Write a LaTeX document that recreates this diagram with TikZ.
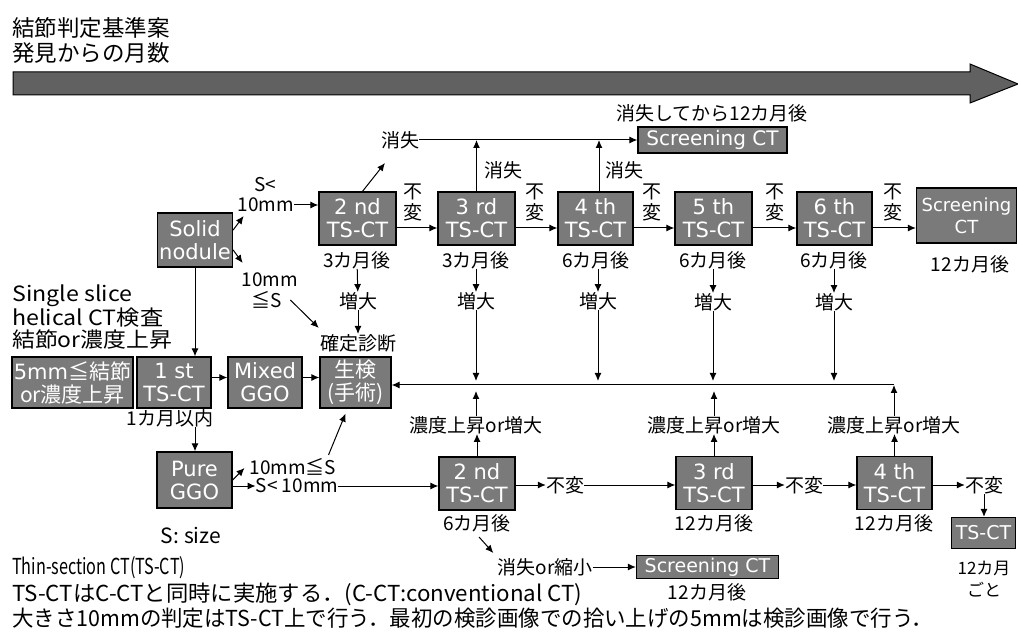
\documentclass[tikz,border=0pt]{standalone}
\usepackage{fontspec}
\usepackage{graphicx}
\setmainfont{Noto Sans CJK JP}
\newfontfamily\boxfont{DejaVu Sans}
\usetikzlibrary{arrows.meta}
\newsavebox{\fitbox}
\newlength{\fitlen}
\newcommand{\fitw}[2]{\sbox{\fitbox}{#2}\setlength{\fitlen}{\wd\fitbox}\pgfmathsetmacro{\fitfac}{#1/\fitlen}\scalebox{\fitfac}[1]{\usebox{\fitbox}}}
\tikzset{
  bx/.style={draw=black, line width=1.3pt, fill=black!52, text=white, inner sep=0pt, align=center, font=\boxfont\fontsize{21}{23}\selectfont},
  jbx/.style={bx, font=\fontsize{21}{23}\selectfont},
  lb/.style={inner sep=0pt, align=center, font=\fontsize{19}{22}\selectfont},
  ttl/.style={inner sep=0pt, anchor=west, font=\fontsize{22.5}{26}\selectfont},
  btx/.style={inner sep=0pt, anchor=west, font=\fontsize{22}{24}\selectfont},
  ar/.style={-{Latex[length=8pt,width=7pt]}, line width=1pt},
}
\begin{document}
\begin{tikzpicture}[x=1pt,y=-1pt]
\useasboundingbox (0,0) rectangle (1018,644);
\clip (0,0) rectangle (1018,644);
\fill[white] (0,0) rectangle (1018,644);

% title
\node[ttl] (t1) at (12,28) {結節判定基準案};
\node[ttl] (t2) at (12,53) {発見からの月数};
% banner arrow
\draw[line width=1pt, fill=black!62] (13,72) -- (970,72) -- (970,64) -- (1018,84) -- (970,103) -- (970,95) -- (13,95) -- cycle;

% top screening
\node[lb] (sc1l) at (712,113) {消失してから12カ月後};
\node[bx, minimum width=149pt, minimum height=26pt, font=\boxfont\fontsize{20}{22}\selectfont] (sc1) at (712.5,140) {Screening CT};
\node[lb] (s1) at (400,140) {消失};

% row 1 boxes
\node[bx, minimum width=75pt, minimum height=54pt] (sn) at (195,240) {Solid\\nodule};
\node[bx, minimum width=77pt, minimum height=53pt] (b2) at (357.5,218.5) {2 nd\\TS-CT};
\node[bx, minimum width=77pt, minimum height=53pt] (b3) at (476.5,218.5) {3 rd\\TS-CT};
\node[bx, minimum width=75pt, minimum height=53pt] (b4) at (595.5,218.5) {4 th\\TS-CT};
\node[bx, minimum width=77pt, minimum height=53pt] (b5) at (713.5,218.5) {5 th\\TS-CT};
\node[bx, minimum width=75pt, minimum height=53pt] (b6) at (834.5,218.5) {6 th\\TS-CT};
\node[bx, minimum width=100pt, minimum height=55pt, font=\boxfont\fontsize{18}{22}\selectfont] (b7) at (966.5,215.5) {Screening\\CT};

% vertical 不変 labels
\node[lb, font=\fontsize{19}{21}\selectfont] (v1) at (413,202) {不\\変};
\node[lb, font=\fontsize{19}{21}\selectfont] (v2) at (535,202) {不\\変};
\node[lb, font=\fontsize{19}{21}\selectfont] (v3) at (652,202) {不\\変};
\node[lb, font=\fontsize{19}{21}\selectfont] (v4) at (775,202) {不\\変};
\node[lb, font=\fontsize{19}{21}\selectfont] (v5) at (893,202) {不\\変};

% 消失 labels
\node[lb] (e1) at (503,170) {消失};
\node[lb] (e2) at (624,170) {消失};

% months labels
\node[lb] (m2) at (357,260) {3カ月後};
\node[lb] (m3) at (476,260) {3カ月後};
\node[lb] (m4) at (596,260) {6カ月後};
\node[lb] (m5) at (713,260) {6カ月後};
\node[lb] (m6) at (834,260) {6カ月後};
\node[lb] (m7) at (970,264) {12カ月後};

% 増大
\node[lb] (z2) at (358,301) {増大};
\node[lb] (z3) at (476,301) {増大};
\node[lb] (z4) at (598,301) {増大};
\node[lb] (z5) at (713,302) {増大};
\node[lb] (z6) at (834,302) {増大};
\node[lb] (kd) at (358,343) {確定診断};

% size labels near solid nodule
\node[lb] (q1a) at (265,185) {S<};
\node[lb] (q1b) at (266,205) {10mm};
\node[lb] (r1) at (270,280) {10mm};
\node[lb] (r2) at (267,300) {≦S};

% left text block
\node[inner sep=0pt, anchor=west, align=left, font=\fontsize{21}{22.5}\selectfont] (lt) at (12,317) {\fitw{120}{Single slice}\\\fitw{151}{helical CT検査}\\\fitw{160}{結節or濃度上昇}};

% row 2
\node[jbx, minimum width=121pt, minimum height=51pt] (bf) at (72.5,382.5) {{\boxfont 5mm}≦結節\\or濃度上昇};
\node[bx, minimum width=74pt, minimum height=51pt] (bt1) at (174,382.5) {1 st\\TS-CT};
\node[bx, minimum width=74pt, minimum height=51pt] (bm) at (265,382.5) {Mixed\\GGO};
\node[jbx, minimum width=71pt, minimum height=51pt] (ks) at (355.5,382.5) {生検\\(手術)};
\node[lb] (om) at (170,418) {1カ月以内};

% pure GGO
\node[bx, minimum width=75pt, minimum height=56pt] (pg) at (194.5,480) {Pure\\GGO};
\node[lb] (g1) at (293,467) {10mm≦S};
\node[lb] (g2) at (297,486) {S< 10mm};
\node[lb, font=\fontsize{21}{24}\selectfont] (ss) at (191,535) {S: size};

% bottom row
\node[bx, minimum width=76pt, minimum height=53pt] (c2) at (477,483.5) {2 nd\\TS-CT};
\node[bx, minimum width=76pt, minimum height=53pt] (c3) at (714,483) {3 rd\\TS-CT};
\node[bx, minimum width=75pt, minimum height=53pt] (c4) at (894.5,483) {4 th\\TS-CT};
\node[bx, minimum width=64pt, minimum height=31pt, font=\boxfont\fontsize{19}{21}\selectfont] (c5) at (983.5,533) {TS-CT};
\node[lb] (l2) at (477,523) {6カ月後};
\node[lb] (l3) at (714,523) {12カ月後};
\node[lb] (l4) at (894,523) {12カ月後};
\node[lb, font=\fontsize{17}{22}\selectfont] (l5) at (984,579) {12カ月\\ごと};
\node[lb] (u1) at (565,485) {不変};
\node[lb] (u2) at (804,485) {不変};
\node[lb] (u3) at (984,485) {不変};
\node[lb] (n1) at (476,425) {濃度上昇or増大};
\node[lb] (n2) at (714,425) {濃度上昇or増大};
\node[lb] (n3) at (894,425) {濃度上昇or増大};
\node[lb] (vs) at (545,567) {消失or縮小};
\node[bx, minimum width=142pt, minimum height=23pt, font=\boxfont\fontsize{19}{21}\selectfont] (sc2) at (707.5,567) {Screening CT};
\node[lb] (sc2l) at (707,592) {12カ月後};

% bottom text
\node[btx] (x1) at (12,568) {\fitw{173}{Thin-section CT(TS-CT)}};
\node[btx] (x2) at (12,594) {\fitw{570}{TS-CTはC-CTと同時に実施する．(C-CT:conventional CT)}};
\node[btx] (x3) at (12,618) {\fitw{921}{大きさ10mmの判定はTS-CT上で行う．最初の検診画像での拾い上げの5mmは検診画像で行う．}};

% coordinates for the main collecting line
\coordinate (Ltop) at (0,381);
\coordinate (Lbot) at (0,391);
\coordinate (Lc) at (894,385);
\coordinate (ya) at (0,228);

% ---- connectors ----
\draw[ar] (s1.east) -- (sc1.west);
\draw[ar] ([xshift=5pt]b2.north) -- ([xshift=-15pt,yshift=-23pt]s1.center);
\draw[ar] (b3.north) -- (b3.north |- s1);
\draw[ar] ([xshift=3.5pt]b4.north) -- ([xshift=3.5pt]b4.north |- s1);
\draw[ar] (b2.east |- ya) -- (b3.west |- ya);
\draw[ar] (b3.east |- ya) -- (b4.west |- ya);
\draw[ar] (b4.east |- ya) -- (b5.west |- ya);
\draw[ar] (b5.east |- ya) -- (b6.west |- ya);
\draw[ar] (b6.east |- ya) -- (b7.west |- ya);
\draw[ar] ([yshift=10pt]sn.east) -- ([xshift=6pt,yshift=-11pt]q1b.west);
\draw[ar] (q1b.east) -- (b2.west |- q1b);
\draw[ar] ([yshift=-10pt]sn.east) -- ([xshift=1pt,yshift=17pt]r1.west);
\draw[ar] ([xshift=8pt]r2.east) -- ([xshift=-1pt,yshift=6pt]kd.north west);
\draw[ar] (sn.south) -- (sn.south |- bt1.north);
\draw[ar] (m2) -- (z2);
\draw[ar] (z2) -- (kd);
\draw[ar] (m3) -- (z3);
\draw[ar] (m4.south -| z4) -- (z4);
\draw[ar] (m5) -- (z5);
\draw[ar] (m6) -- (z6);
\draw[ar] (z3) -- (z3 |- Ltop);
\draw[ar] (z4) -- (z4 |- Ltop);
\draw[ar] (z5) -- (z5 |- Ltop);
\draw[ar] (z6) -- (z6 |- Ltop);
\draw[ar] (Lc) -- (ks.east |- Lc);
\draw[ar] (n1) -- (n1 |- Lbot);
\draw[ar] (n2) -- (n2 |- Lbot);
\draw[ar] (n3) -- (Lc);
\draw[ar] ([yshift=5pt]bt1.east) -- ([yshift=5pt]bm.west);
\draw[ar] ([yshift=5pt]bm.east) -- ([yshift=5pt]ks.west);
\draw[ar] (sn.south |- om.south) -- (sn.south |- pg.north);
\draw[ar] (pg.east) -- ([xshift=-5pt,yshift=-1pt]g1.west);
\draw[ar] ([xshift=-8pt,yshift=12pt]g1.east) -- ([xshift=-10pt,yshift=-5pt]ks.south);
\draw[ar] (pg.east |- g2) -- (g2.west);
\draw[ar] (g2.east) -- (c2.west |- g2);
\draw[ar] (c2.north) -- (c2.north |- n1.south);
\draw[ar] (c3.north) -- (c3.north |- n2.south);
\draw[ar] (c4.north) -- (c4.north |- n3.south);
\draw[ar] (c2.east |- u1) -- (u1.west);
\draw[ar] (u1.east) -- (c3.west |- u1);
\draw[ar] (c3.east |- u2) -- (u2.west);
\draw[ar] (u2.east) -- (c4.west |- u2);
\draw[ar] (c4.east |- u3) -- (u3.west);
\draw[ar] (u3) -- (u3 |- c5.north);
\draw[ar] ([xshift=2pt,yshift=-5pt]l2.south) -- ([xshift=-4pt,yshift=5pt]vs.north west);
\draw[ar] (vs.east) -- (sc2.west);
\end{tikzpicture}
\end{document}
